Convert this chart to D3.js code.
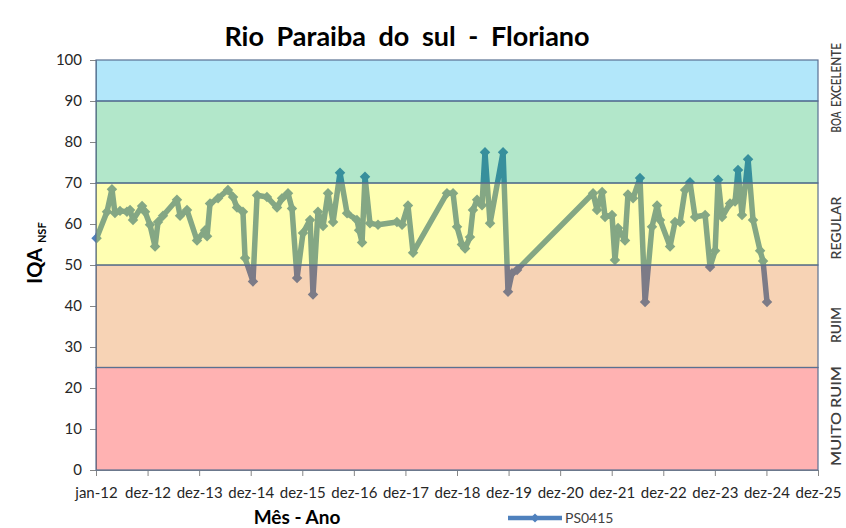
<!DOCTYPE html>
<html>
<head>
<meta charset="utf-8">
<script src="https://cdn.jsdelivr.net/npm/d3@7"></script>
<style>
  body { margin: 0; background: #fff; }
  text { font-family: Lato, "Open Sans", sans-serif; }
</style>
</head>
<body>
<div id="chart"></div>
<script>
// sample dates (PS0415) and IQA values
var dates = [
  "2012-01-05","2012-03-19","2012-04-23","2012-05-14","2012-06-19","2012-08-07","2012-08-29","2012-09-19",
  "2012-11-22","2012-12-13","2013-01-17","2013-02-22","2013-03-15","2013-04-19","2013-07-27","2013-08-18",
  "2013-10-06","2013-12-16","2014-02-11","2014-02-25","2014-03-18","2014-05-14","2014-07-23","2014-08-28",
  "2014-09-25","2014-11-06","2014-11-21","2015-01-16","2015-02-14","2015-04-25","2015-07-05","2015-08-10",
  "2015-09-21","2015-10-19","2015-11-24","2016-01-05","2016-02-24","2016-03-16","2016-04-20","2016-05-26",
  "2016-06-30","2016-08-05","2016-09-23","2016-11-12","2017-01-21","2017-02-05","2017-02-26","2017-03-19",
  "2017-04-23","2017-06-19","2017-10-31","2017-12-06","2018-01-17","2018-02-22","2018-10-20","2018-12-02",
  "2018-12-30","2019-02-03","2019-02-25","2019-04-01","2019-04-22","2019-05-21","2019-06-25","2019-07-16",
  "2019-08-21","2019-11-21","2019-12-26","2020-01-23","2020-02-28","2021-08-19","2021-09-16","2021-10-22",
  "2021-11-12","2021-12-31","2022-01-21","2022-02-12","2022-04-02","2022-04-23","2022-05-29","2022-07-17",
  "2022-08-22","2022-10-10","2022-11-15","2022-12-06","2023-02-15","2023-03-22","2023-04-27","2023-06-01",
  "2023-07-06","2023-08-11","2023-10-21","2023-11-25","2023-12-31","2024-01-21","2024-02-18","2024-04-14",
  "2024-05-20","2024-06-10","2024-07-08","2024-08-20","2024-09-24","2024-11-13","2024-12-04","2025-01-01"
];
var iqa = [
  56.5, 63, 68.5, 62.7, 63.2, 63, 63.4, 61,
  64.4, 63, 59.8, 54.5, 60.5, 62, 65.9, 62,
  63.4, 56, 58.5, 57, 65, 66.3, 68.3, 66.6,
  64, 63, 51.7, 46, 67, 66.6, 64, 66.3,
  67.5, 63.8, 46.8, 57.8, 61, 42.8, 63, 59.5,
  67.5, 60.5, 72.5, 62.6, 61, 58.5, 55.5, 71.5,
  60.2, 59.8, 60.5, 59.8, 64.5, 53, 67.5, 67.5,
  59.3, 55, 54, 56.8, 63.4, 65.9, 64.6, 77.5,
  60.2, 77.5, 43.5, 48, 48.8, 67.5, 63.4, 67.8,
  61.7, 62.2, 51.2, 59, 56, 67.2, 66.3, 71.2,
  41, 59.3, 64.5, 61, 54.5, 60.5, 60.5, 68.3,
  70.2, 61.7, 62.2, 49.5, 53.5, 70.8, 61.7, 65,
  65.5, 73.2, 62.2, 75.8, 61, 53.5, 51, 41
];

// quality classes
var classNames = ["MUITO RUIM", "RUIM", "REGULAR", "BOA", "EXCELENTE"];
var classLow = [0, 25, 50, 70, 90];
var classHigh = [25, 50, 70, 90, 100];
var classColors = ["#ff0000", "#e46c0a", "#ffff00", "#00b050", "#00b0f0"];

var xTickLabels = ["jan-12","dez-12","dez-13","dez-14","dez-15","dez-16","dez-17",
  "dez-18","dez-19","dez-20","dez-21","dez-22","dez-23","dez-24","dez-25"];
var yTicks = [0, 10, 20, 30, 40, 50, 60, 70, 80, 90, 100];

var margin = { top: 60, left: 96, right: 28, bottom: 58 },
    fullW = 846, fullH = 528,
    width = fullW - margin.left - margin.right,
    height = fullH - margin.top - margin.bottom;

// where the class names sit along the right edge (centre y, length)
var classLabelY = [416, 325, 228, 122, 75];
var classLabelLen = [100, 36, 63, 21, 64];

var parse = d3.utcParse("%Y-%m-%d");
var start = parse("2012-01-01");
var tickDates = xTickLabels.map(function(d, i) { return d3.utcDay.offset(start, i * 365); });

var data = dates.map(function(d, i) { return { date: parse(d), value: iqa[i] }; });

var svg = d3.select("#chart").append("svg")
  .attr("width", fullW)
  .attr("height", fullH);

var g = svg.append("g")
  .attr("transform", "translate(" + margin.left + "," + margin.top + ")");

var x = d3.scaleUtc()
  .domain([start, tickDates[tickDates.length - 1]])
  .range([0, width]);

var y = d3.scaleLinear()
  .domain([0, 100])
  .range([height, 0]);

// axes
var yAxis = g.append("g")
  .call(d3.axisLeft(y).tickValues(yTicks).tickSize(6).tickPadding(8));
var xAxis = g.append("g")
  .attr("transform", "translate(0," + height + ")")
  .call(d3.axisBottom(x).tickValues(tickDates).tickSize(6).tickPadding(8)
    .tickFormat(function(d, i) { return xTickLabels[i]; }));

[yAxis, xAxis].forEach(function(ax) {
  ax.selectAll("path, line").attr("stroke", "#868686");
  ax.selectAll("text").attr("fill", "#262626").attr("font-size", 15);
});
xAxis.selectAll("text").attr("dy", "0.95em");

// series
var line = d3.line()
  .x(function(d) { return x(d.date); })
  .y(function(d) { return y(d.value); });

g.append("path")
  .datum(data)
  .attr("d", line)
  .attr("fill", "none")
  .attr("stroke", "#4f81bd")
  .attr("stroke-width", 5.5)
  .attr("stroke-linejoin", "round");

var diamond = d3.symbol().type(d3.symbolSquare).size(55);

g.selectAll(".pt")
  .data(data)
  .enter().append("path")
  .attr("class", "pt")
  .attr("d", diamond)
  .attr("transform", function(d) {
    return "translate(" + x(d.date) + "," + y(d.value) + ") rotate(45)";
  })
  .attr("fill", "#4f81bd");

// translucent class bands laid over the series
g.selectAll(".band")
  .data(classNames)
  .enter().append("rect")
  .attr("class", "band")
  .attr("x", 0)
  .attr("width", width)
  .attr("y", function(d, i) { return y(classHigh[i]); })
  .attr("height", function(d, i) { return y(classLow[i]) - y(classHigh[i]); })
  .attr("fill", function(d, i) { return classColors[i]; })
  .attr("fill-opacity", 0.3)
  .attr("stroke", "#5a7192")
  .attr("stroke-width", 1.2);

// class labels on the right
svg.selectAll(".cls")
  .data(classNames)
  .enter().append("text")
  .attr("class", "cls")
  .attr("transform", function(d, i) { return "translate(841," + classLabelY[i] + ") rotate(-90)"; })
  .attr("text-anchor", "middle")
  .attr("font-size", 14)
  .attr("font-weight", 600)
  .attr("fill", "#404040")
  .attr("textLength", function(d, i) { return classLabelLen[i]; })
  .attr("lengthAdjust", "spacingAndGlyphs")
  .text(function(d) { return d; });

// title
svg.append("text")
  .attr("x", 407)
  .attr("y", 46)
  .attr("text-anchor", "middle")
  .attr("font-size", 27)
  .attr("font-weight", "bold")
  .attr("word-spacing", 6)
  .attr("fill", "#000")
  .text("Rio Paraiba do sul - Floriano");

// y label
var yl = svg.append("text")
  .attr("transform", "translate(42,253) rotate(-90)")
  .attr("text-anchor", "middle")
  .attr("font-weight", "bold")
  .attr("fill", "#000");
yl.append("tspan").attr("font-size", 20).text("IQA");
yl.append("tspan").attr("font-size", 11).attr("dx", 5).attr("dy", 4).text("NSF");

// x label
svg.append("text")
  .attr("x", 297)
  .attr("y", 524)
  .attr("text-anchor", "middle")
  .attr("font-size", 19)
  .attr("font-weight", "bold")
  .attr("fill", "#000")
  .text("Mês - Ano");

// legend
var lg = svg.append("g").attr("transform", "translate(508,518)");
lg.append("line")
  .attr("x1", 0).attr("x2", 54)
  .attr("stroke", "#4f81bd")
  .attr("stroke-width", 4.5);
lg.append("path")
  .attr("d", d3.symbol().type(d3.symbolSquare).size(40))
  .attr("transform", "translate(27,0) rotate(45)")
  .attr("fill", "#4f81bd");
lg.append("text")
  .attr("x", 57)
  .attr("y", 5)
  .attr("font-size", 14)
  .attr("fill", "#404040")
  .text("PS0415");
</script>
</body>
</html>
